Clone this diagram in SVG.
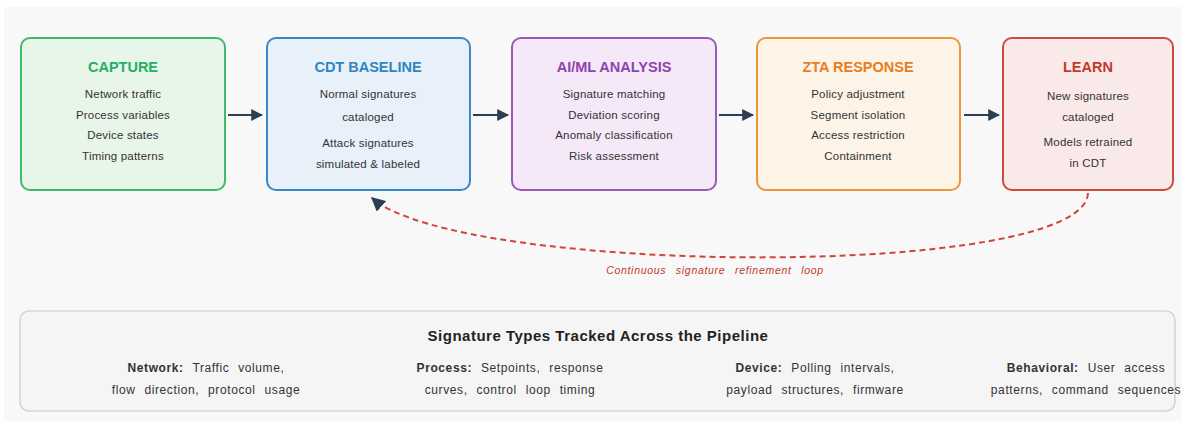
<svg xmlns="http://www.w3.org/2000/svg" width="1186" height="425" viewBox="0 0 1186 425">
<style>
.box{stroke-width:2}
.ttl{font-family:"Liberation Sans",Arial,sans-serif;font-size:14.5px;font-weight:bold;text-anchor:middle}
.txt{font-family:"Liberation Sans",Arial,sans-serif;font-size:11.5px;fill:#333;text-anchor:middle;letter-spacing:0.2px}
.bt{font-family:"Liberation Sans",Arial,sans-serif;font-size:12px;fill:#333;text-anchor:middle;letter-spacing:0.6px;word-spacing:5px}
.b{font-weight:bold}
.arr{stroke:#2c3e50;stroke-width:2;fill:none}
</style>
<defs>
<marker id="ah" viewBox="0 0 10 10" refX="9" refY="5" markerWidth="12" markerHeight="12" markerUnits="userSpaceOnUse" orient="auto">
<path d="M0,0 L10,5 L0,10 z" fill="#2c3e50"/>
</marker>
<marker id="ah2" viewBox="0 0 10 10" refX="9" refY="5" markerWidth="14" markerHeight="14" markerUnits="userSpaceOnUse" orient="auto">
<path d="M0,0 L10,5 L0,10 z" fill="#2c3e50"/>
</marker>
</defs>
<rect x="0" y="0" width="1186" height="425" fill="#ffffff"/>
<rect x="4" y="7" width="1178" height="414" fill="#f8f8f8"/>

<g id="capture">
<rect class="box" x="21" y="38" width="204" height="152" rx="9" fill="#e8f5e9" stroke="#3dbb6b"/>
<text class="ttl" x="123" y="72" fill="#27ae60">CAPTURE</text>
<text class="txt" x="123" y="98">Network traffic</text>
<text class="txt" x="123" y="119">Process variables</text>
<text class="txt" x="123" y="139">Device states</text>
<text class="txt" x="123" y="160">Timing patterns</text>
</g>

<g id="cdt-baseline">
<rect class="box" x="267" y="38" width="203" height="152" rx="9" fill="#e8f0fa" stroke="#3a87c8"/>
<text class="ttl" x="368" y="72" fill="#2e86c1">CDT BASELINE</text>
<text class="txt" x="368" y="98">Normal signatures</text>
<text class="txt" x="368" y="121">cataloged</text>
<text class="txt" x="368" y="147">Attack signatures</text>
<text class="txt" x="368" y="168">simulated &amp; labeled</text>
</g>

<g id="aiml-analysis">
<rect class="box" x="512" y="38" width="204" height="152" rx="9" fill="#f5e8f9" stroke="#9b59b6"/>
<text class="ttl" x="614" y="72" fill="#8e44ad">AI/ML ANALYSIS</text>
<text class="txt" x="614" y="98">Signature matching</text>
<text class="txt" x="614" y="119">Deviation scoring</text>
<text class="txt" x="614" y="139">Anomaly classification</text>
<text class="txt" x="614" y="160">Risk assessment</text>
</g>

<g id="zta-response">
<rect class="box" x="757" y="38" width="203" height="152" rx="9" fill="#fdf3e6" stroke="#f0953a"/>
<text class="ttl" x="858" y="72" fill="#e67e22">ZTA RESPONSE</text>
<text class="txt" x="858" y="98">Policy adjustment</text>
<text class="txt" x="858" y="119">Segment isolation</text>
<text class="txt" x="858" y="139">Access restriction</text>
<text class="txt" x="858" y="160">Containment</text>
</g>

<g id="learn">
<rect class="box" x="1003" y="38" width="170" height="152" rx="9" fill="#f9e9e9" stroke="#d0493e"/>
<text class="ttl" x="1088" y="72" fill="#c0392b">LEARN</text>
<text class="txt" x="1088" y="100">New signatures</text>
<text class="txt" x="1088" y="121">cataloged</text>
<text class="txt" x="1088" y="146">Models retrained</text>
<text class="txt" x="1088" y="167">in CDT</text>
</g>

<g id="connectors">
<line class="arr" x1="228" y1="115" x2="262" y2="115" marker-end="url(#ah)"/>
<line class="arr" x1="473" y1="115" x2="508" y2="115" marker-end="url(#ah)"/>
<line class="arr" x1="719" y1="115" x2="753" y2="115" marker-end="url(#ah)"/>
<line class="arr" x1="964" y1="115" x2="999" y2="115" marker-end="url(#ah)"/>
<path d="M1088 193 C1085 280 460 276 372 198" fill="none" stroke="#d0453a" stroke-width="2" stroke-dasharray="6,4" marker-end="url(#ah2)"/>
<text x="715" y="274" font-family="'Liberation Sans',Arial,sans-serif" font-size="10.5" font-style="italic" fill="#c0392b" text-anchor="middle" letter-spacing="0.7" word-spacing="6">Continuous signature refinement loop</text>
</g>

<g id="signature-types">
<rect x="20" y="311" width="1155" height="100" rx="9" fill="#f5f5f5" stroke="#c8c8c8" stroke-width="1.2"/>
<text x="598" y="341" font-family="'Liberation Sans',Arial,sans-serif" font-size="15" font-weight="bold" fill="#222" text-anchor="middle" letter-spacing="0.5">Signature Types Tracked Across the Pipeline</text>
<text class="bt" x="206" y="372"><tspan class="b">Network:</tspan> Traffic volume,</text>
<text class="bt" x="206" y="394">flow direction, protocol usage</text>
<text class="bt" x="510" y="372"><tspan class="b">Process:</tspan> Setpoints, response</text>
<text class="bt" x="510" y="394">curves, control loop timing</text>
<text class="bt" x="815" y="372"><tspan class="b">Device:</tspan> Polling intervals,</text>
<text class="bt" x="815" y="394">payload structures, firmware</text>
<text class="bt" x="1086" y="372"><tspan class="b">Behavioral:</tspan> User access</text>
<text class="bt" x="1086" y="394">patterns, command sequences</text>
</g>
</svg>
